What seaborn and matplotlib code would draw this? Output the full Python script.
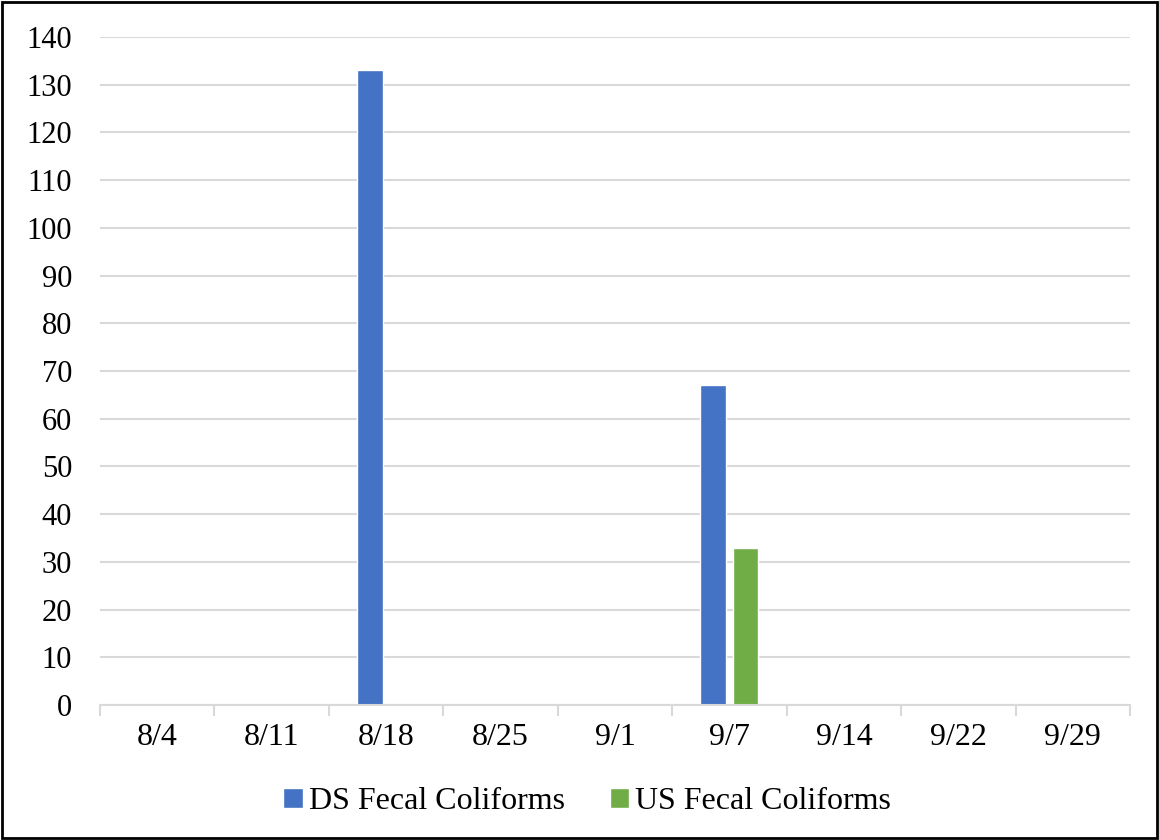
import numpy as np
import pandas as pd
import seaborn as sns
import matplotlib.pyplot as plt
from matplotlib.patches import Rectangle

dates = ["8/4", "8/11", "8/18", "8/25", "9/1", "9/7", "9/14", "9/22", "9/29"]
ds_fecal = [np.nan, np.nan, 133, np.nan, np.nan, 67, np.nan, np.nan, np.nan]
us_fecal = [np.nan, np.nan, np.nan, np.nan, np.nan, 33, np.nan, np.nan, np.nan]

df = pd.DataFrame({
    "date": dates * 2,
    "value": ds_fecal + us_fecal,
    "series": ["DS Fecal Coliforms"] * len(dates) + ["US Fecal Coliforms"] * len(dates),
})

sns.set_style("white")
plt.rcParams["font.family"] = ["Liberation Serif", "DejaVu Serif"]
plt.rcParams["text.color"] = "black"
plt.rcParams["xtick.color"] = "black"
plt.rcParams["ytick.color"] = "black"

fig = plt.figure(figsize=(11.59, 8.40), dpi=100)
ax = fig.add_axes([0.0863, 0.1607, 0.8887, 0.7953])

sns.barplot(data=df, x="date", y="value", hue="series", order=dates,
            palette=["#4472c4", "#70ad47"], width=0.56, gap=0.19,
            saturation=1, ax=ax, legend=True)

ax.set_ylim(0, 140)
ax.set_yticks(range(0, 141, 10))
ax.set_xlim(-0.5, len(dates) - 0.5)
ax.yaxis.grid(True, color="#d9d9d9", linewidth=1.5)
ax.set_axisbelow(True)
for s in ["left", "right", "top"]:
    ax.spines[s].set_visible(False)
ax.spines["bottom"].set_color("#d9d9d9")
ax.spines["bottom"].set_linewidth(1.5)

ax.set_xlabel("")
ax.set_ylabel("")
ax.tick_params(axis="y", length=0, labelsize=22, pad=20, labelcolor="black")
ax.tick_params(axis="x", which="major", length=0, labelsize=23, pad=13, labelcolor="black")
ax.set_xticks(np.arange(-0.5, len(dates), 1), minor=True)
ax.tick_params(axis="x", which="minor", bottom=True, length=8, width=1.5,
               color="#d9d9d9", direction="out")

ax.legend(loc="center", bbox_to_anchor=(0.473, -0.145), ncol=2, frameon=False,
          fontsize=23, handlelength=0.6, handleheight=0.6, handletextpad=0.2,
          columnspacing=1.4)

fig.patches.append(Rectangle((0.002, 0.002), 0.996, 0.996, transform=fig.transFigure,
                             fill=False, edgecolor="black", linewidth=2))

fig.savefig("out.png", dpi=100)
